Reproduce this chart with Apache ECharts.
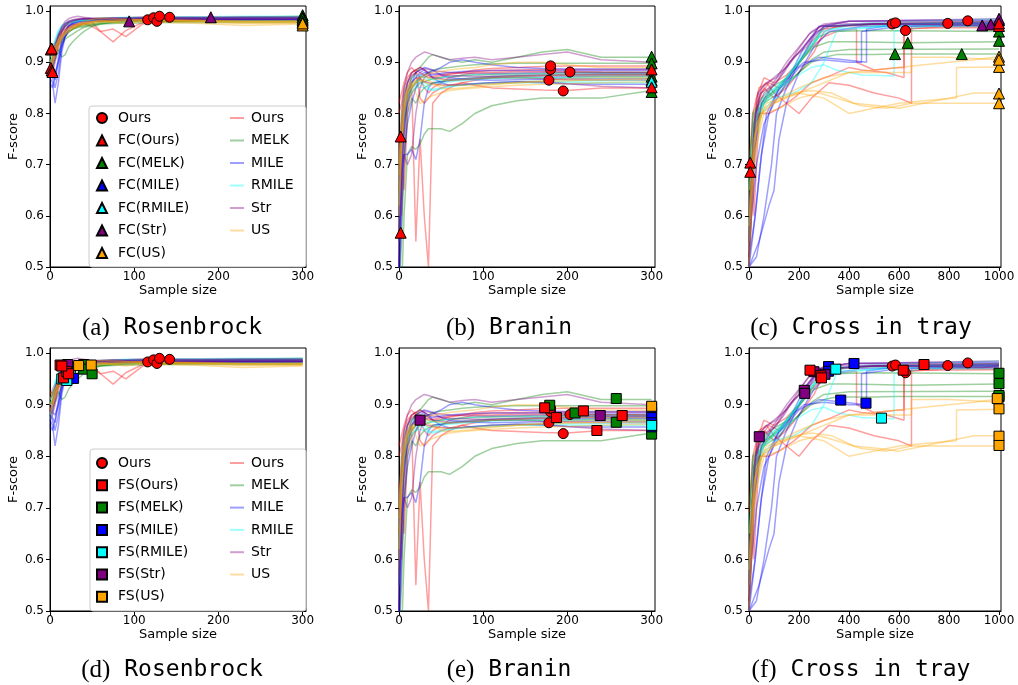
<!DOCTYPE html>
<html><head><meta charset="utf-8">
<script src="https://cdn.jsdelivr.net/npm/echarts@6/dist/echarts.min.js"></script>
<style>html,body{margin:0;padding:0;background:#fff}#c{width:1018px;height:685px}</style>
</head><body><div id="c"></div>
<script>
// ---------------- DATA ----------------
const METHODS = ['Ours','MELK','MILE','RMILE','Str','US'];
const COLORS = {Ours:'#ff0000', MELK:'#008000', MILE:'#0000ff', RMILE:'#00ffff', Str:'#800080', US:'#ffa500'};
const Y_TICKS = [0.5,0.6,0.7,0.8,0.9,1.0];
const X_TICKS_300 = [0,100,200,300];
const X_TICKS_1000 = [0,200,400,600,800,1000];

// Rosenbrock: sampled sample sizes, runs per method (F-score)
const ros_x = [0,3,6,10,14,18,22,27,33,40,50,60,75,90,110,140,180,230,300];
const ros_ours = [
 [0.92,0.93,0.94,0.955,0.965,0.97,0.975,0.978,0.98,0.98,0.982,0.983,0.984,0.984,0.985,0.985,0.986,0.986,0.986],
 [0.89,0.90,0.92,0.94,0.955,0.96,0.968,0.972,0.975,0.978,0.98,0.98,0.982,0.983,0.983,0.984,0.984,0.985,0.985],
 [0.88,0.885,0.91,0.93,0.95,0.962,0.97,0.975,0.972,0.976,0.97,0.96,0.965,0.95,0.975,0.98,0.982,0.983,0.983],
 [0.885,0.90,0.93,0.95,0.96,0.965,0.97,0.968,0.972,0.975,0.978,0.96,0.94,0.962,0.978,0.982,0.984,0.985,0.986],
 [0.925,0.92,0.935,0.95,0.962,0.97,0.975,0.978,0.982,0.984,0.985,0.986,0.987,0.987,0.988,0.988,0.988,0.988,0.988]];
const ros_melk = [
 [0.90,0.91,0.92,0.925,0.91,0.915,0.93,0.94,0.95,0.96,0.97,0.975,0.978,0.98,0.98,0.98,0.98,0.98,0.98],
 [0.91,0.92,0.93,0.94,0.95,0.955,0.96,0.965,0.97,0.972,0.975,0.978,0.98,0.982,0.983,0.984,0.985,0.985,0.985],
 [0.88,0.895,0.905,0.92,0.935,0.945,0.95,0.955,0.962,0.968,0.972,0.975,0.976,0.977,0.977,0.978,0.978,0.978,0.978],
 [0.90,0.905,0.925,0.94,0.945,0.95,0.958,0.965,0.97,0.975,0.978,0.98,0.982,0.983,0.984,0.985,0.986,0.988,0.99],
 [0.92,0.925,0.93,0.935,0.94,0.95,0.96,0.965,0.968,0.97,0.974,0.976,0.978,0.979,0.98,0.98,0.981,0.982,0.982]];
const ros_mile = [
 [0.87,0.86,0.82,0.86,0.92,0.95,0.965,0.972,0.978,0.98,0.982,0.984,0.985,0.985,0.986,0.986,0.986,0.987,0.987],
 [0.88,0.87,0.85,0.88,0.93,0.955,0.97,0.975,0.978,0.98,0.982,0.983,0.984,0.985,0.985,0.985,0.986,0.986,0.986],
 [0.89,0.875,0.865,0.90,0.94,0.96,0.97,0.976,0.98,0.982,0.983,0.984,0.984,0.985,0.985,0.985,0.985,0.985,0.985],
 [0.86,0.85,0.87,0.91,0.945,0.962,0.972,0.977,0.98,0.981,0.982,0.983,0.983,0.984,0.984,0.984,0.984,0.984,0.984],
 [0.90,0.885,0.88,0.90,0.93,0.95,0.962,0.97,0.975,0.978,0.98,0.981,0.982,0.982,0.983,0.983,0.983,0.983,0.983]];
const ros_rmile = [
 [0.90,0.91,0.94,0.96,0.97,0.975,0.978,0.98,0.982,0.984,0.985,0.986,0.987,0.988,0.988,0.989,0.989,0.99,0.99],
 [0.88,0.90,0.93,0.955,0.968,0.975,0.978,0.98,0.982,0.983,0.984,0.985,0.986,0.987,0.987,0.988,0.988,0.988,0.988],
 [0.91,0.92,0.945,0.962,0.972,0.976,0.98,0.982,0.983,0.984,0.985,0.986,0.986,0.987,0.987,0.987,0.987,0.987,0.987],
 [0.87,0.89,0.92,0.945,0.96,0.97,0.975,0.978,0.98,0.981,0.982,0.983,0.984,0.985,0.985,0.986,0.986,0.986,0.986],
 [0.90,0.915,0.935,0.955,0.965,0.972,0.976,0.979,0.981,0.983,0.984,0.985,0.985,0.986,0.986,0.986,0.987,0.987,0.987]];
const ros_str = [
 [0.89,0.90,0.92,0.95,0.97,0.98,0.985,0.988,0.99,0.988,0.986,0.985,0.986,0.986,0.987,0.987,0.987,0.988,0.988],
 [0.88,0.89,0.91,0.94,0.96,0.975,0.98,0.983,0.985,0.986,0.985,0.984,0.985,0.985,0.985,0.986,0.986,0.986,0.986],
 [0.90,0.905,0.93,0.955,0.968,0.976,0.98,0.982,0.984,0.985,0.984,0.982,0.983,0.983,0.984,0.984,0.984,0.985,0.985],
 [0.87,0.88,0.90,0.935,0.958,0.97,0.977,0.98,0.983,0.985,0.986,0.986,0.987,0.987,0.988,0.988,0.988,0.988,0.988],
 [0.91,0.92,0.935,0.95,0.962,0.972,0.978,0.981,0.983,0.984,0.985,0.985,0.985,0.985,0.985,0.985,0.985,0.985,0.985]];
const ros_us = [
 [0.90,0.91,0.93,0.94,0.95,0.96,0.965,0.97,0.975,0.978,0.98,0.982,0.978,0.975,0.98,0.978,0.976,0.972,0.975],
 [0.88,0.90,0.92,0.935,0.948,0.955,0.962,0.968,0.972,0.975,0.978,0.98,0.98,0.982,0.983,0.982,0.98,0.978,0.978],
 [0.91,0.92,0.93,0.945,0.955,0.962,0.968,0.972,0.976,0.98,0.984,0.986,0.985,0.984,0.983,0.983,0.982,0.98,0.98],
 [0.89,0.90,0.915,0.93,0.945,0.955,0.96,0.966,0.97,0.974,0.976,0.978,0.979,0.98,0.98,0.98,0.979,0.976,0.977],
 [0.90,0.905,0.92,0.94,0.95,0.958,0.965,0.97,0.974,0.977,0.979,0.981,0.982,0.983,0.983,0.982,0.981,0.979,0.98]];
const ros_circles = [[116,0.983],[123,0.987],[127,0.980],[130,0.990],[142,0.988]];
const ros_fc = {
 Ours:[[1,0.925],[2,0.927],[1,0.889],[2,0.884],[3,0.881]],
 MELK:[[300,0.992],[300,0.988],[300,0.982],[300,0.985],[300,0.979]],
 MILE:[], RMILE:[],
 Str:[[94,0.980],[191,0.988]],
 US:[[300,0.972],[300,0.976]]};
const ros_fs = {
 Ours:[[12,0.977],[16,0.952],[20,0.964],[22,0.960],[14,0.975]],
 MELK:[[40,0.978],[40,0.969],[50,0.960]],
 MILE:[[28,0.951],[24,0.972]],
 RMILE:[[14,0.950],[20,0.947],[24,0.970]],
 Str:[[21,0.978]],
 US:[[34,0.976],[49,0.977]]};

// Branin
const bra_x = [0,3,6,10,15,20,25,30,35,40,50,60,75,90,110,140,170,200,240,300];
const bra_ours = [
 [0.80,0.82,0.85,0.87,0.88,0.885,0.88,0.875,0.87,0.872,0.875,0.878,0.88,0.882,0.884,0.885,0.886,0.886,0.886,0.886],
 [0.75,0.60,0.72,0.85,0.87,0.88,0.87,0.85,0.84,0.85,0.86,0.87,0.875,0.88,0.88,0.882,0.882,0.882,0.881,0.88],
 [0.57,0.70,0.65,0.80,0.86,0.55,0.75,0.60,0.50,0.82,0.84,0.85,0.86,0.865,0.87,0.87,0.868,0.866,0.865,0.865],
 [0.82,0.84,0.86,0.88,0.89,0.88,0.83,0.82,0.83,0.84,0.85,0.855,0.86,0.855,0.85,0.848,0.846,0.845,0.85,0.85],
 [0.70,0.78,0.84,0.86,0.88,0.885,0.89,0.885,0.875,0.87,0.872,0.876,0.88,0.885,0.888,0.89,0.892,0.893,0.893,0.893]];
const bra_melk = [
 [0.50,0.45,0.60,0.72,0.735,0.73,0.74,0.76,0.77,0.77,0.77,0.765,0.78,0.80,0.815,0.825,0.83,0.83,0.83,0.845],
 [0.70,0.75,0.80,0.84,0.87,0.88,0.89,0.90,0.91,0.915,0.91,0.905,0.90,0.905,0.90,0.91,0.92,0.925,0.91,0.91],
 [0.60,0.70,0.78,0.82,0.84,0.85,0.86,0.862,0.865,0.868,0.87,0.872,0.874,0.875,0.876,0.877,0.878,0.88,0.88,0.88],
 [0.45,0.55,0.70,0.80,0.83,0.82,0.84,0.85,0.855,0.86,0.862,0.865,0.867,0.868,0.87,0.87,0.87,0.871,0.872,0.872],
 [0.65,0.72,0.80,0.83,0.85,0.86,0.87,0.875,0.88,0.885,0.888,0.89,0.893,0.895,0.897,0.898,0.898,0.898,0.898,0.898]];
const bra_mile = [
 [0.45,0.60,0.72,0.78,0.82,0.85,0.87,0.875,0.88,0.882,0.89,0.90,0.905,0.90,0.895,0.89,0.888,0.887,0.887,0.887],
 [0.50,0.70,0.76,0.82,0.86,0.88,0.885,0.89,0.888,0.885,0.875,0.87,0.868,0.866,0.865,0.866,0.867,0.868,0.868,0.868],
 [0.55,0.68,0.72,0.72,0.73,0.71,0.75,0.82,0.85,0.86,0.862,0.864,0.866,0.868,0.87,0.872,0.873,0.873,0.874,0.874],
 [0.60,0.75,0.80,0.84,0.86,0.87,0.88,0.885,0.88,0.87,0.86,0.855,0.856,0.858,0.86,0.862,0.86,0.858,0.857,0.857],
 [0.48,0.65,0.78,0.83,0.85,0.86,0.875,0.88,0.878,0.875,0.878,0.88,0.882,0.883,0.884,0.884,0.884,0.884,0.884,0.884]];
const bra_rmile = [
 [0.60,0.75,0.82,0.84,0.85,0.855,0.86,0.855,0.85,0.845,0.848,0.852,0.855,0.857,0.858,0.86,0.86,0.86,0.86,0.86],
 [0.65,0.78,0.83,0.85,0.86,0.862,0.865,0.86,0.856,0.858,0.86,0.862,0.864,0.866,0.868,0.87,0.87,0.87,0.87,0.87],
 [0.70,0.80,0.84,0.86,0.87,0.872,0.875,0.87,0.865,0.868,0.87,0.872,0.874,0.876,0.877,0.878,0.878,0.878,0.878,0.878],
 [0.55,0.72,0.80,0.83,0.845,0.85,0.852,0.85,0.846,0.848,0.85,0.853,0.856,0.858,0.86,0.862,0.863,0.863,0.864,0.865],
 [0.62,0.76,0.81,0.84,0.855,0.86,0.868,0.872,0.87,0.866,0.864,0.866,0.868,0.87,0.872,0.874,0.875,0.876,0.876,0.876]];
const bra_str = [
 [0.60,0.80,0.85,0.88,0.90,0.91,0.915,0.92,0.918,0.915,0.91,0.905,0.908,0.91,0.905,0.91,0.915,0.92,0.905,0.90],
 [0.55,0.70,0.72,0.70,0.72,0.80,0.85,0.87,0.875,0.87,0.868,0.866,0.868,0.87,0.872,0.874,0.875,0.876,0.877,0.877],
 [0.65,0.75,0.82,0.86,0.88,0.885,0.89,0.885,0.88,0.878,0.876,0.874,0.873,0.872,0.872,0.873,0.874,0.875,0.876,0.876],
 [0.50,0.68,0.80,0.84,0.86,0.87,0.868,0.862,0.86,0.858,0.856,0.855,0.856,0.858,0.86,0.862,0.862,0.858,0.853,0.85],
 [0.70,0.78,0.83,0.86,0.875,0.88,0.885,0.888,0.886,0.884,0.882,0.88,0.879,0.878,0.878,0.879,0.88,0.88,0.88,0.88]];
const bra_us = [
 [0.70,0.80,0.83,0.85,0.86,0.84,0.82,0.825,0.83,0.835,0.84,0.845,0.848,0.85,0.852,0.855,0.857,0.858,0.86,0.862],
 [0.65,0.75,0.80,0.84,0.855,0.865,0.87,0.875,0.878,0.88,0.882,0.885,0.888,0.89,0.895,0.90,0.90,0.895,0.89,0.89],
 [0.60,0.72,0.80,0.83,0.85,0.86,0.865,0.862,0.858,0.856,0.855,0.855,0.855,0.856,0.858,0.86,0.862,0.864,0.866,0.868],
 [0.68,0.78,0.82,0.845,0.858,0.865,0.87,0.872,0.87,0.868,0.866,0.864,0.866,0.868,0.87,0.872,0.874,0.875,0.875,0.875],
 [0.62,0.74,0.81,0.84,0.852,0.86,0.864,0.866,0.864,0.86,0.85,0.848,0.85,0.852,0.856,0.86,0.864,0.868,0.87,0.87]];
const bra_circles = [[178,0.865],[180,0.886],[180,0.893],[203,0.881],[195,0.844]];
const bra_fc = {
 Ours:[[2,0.755],[2,0.567],[300,0.886],[300,0.851]],
 MELK:[[300,0.911],[300,0.898],[300,0.872],[300,0.865],[300,0.842]],
 MILE:[], RMILE:[[300,0.862]], Str:[], US:[]};
const bra_fs = {
 Ours:[[173,0.894],[187,0.875],[219,0.888],[235,0.850],[265,0.879]],
 MELK:[[179,0.899],[209,0.884],[258,0.912],[258,0.866],[300,0.843]],
 MILE:[[300,0.895],[300,0.885],[300,0.875],[300,0.865],[300,0.857]],
 RMILE:[[300,0.860]],
 Str:[[25,0.870],[239,0.879]],
 US:[[300,0.897]]};

// Cross in tray: [sample size, F-score] points per run
const cit_ours = [
 [[0,0.5],[10,0.7],[25,0.8],[50,0.84],[80,0.86],[120,0.85],[160,0.87],[200,0.9],[250,0.94],[300,0.965],[400,0.972],[500,0.975],[600,0.976],[800,0.976],[1000,0.977]],
 [[0,0.6],[15,0.75],[30,0.82],[60,0.85],[100,0.83],[150,0.85],[200,0.88],[260,0.92],[300,0.96],[350,0.97],[500,0.973],[700,0.975],[1000,0.975]],
 [[0,0.69],[10,0.72],[20,0.6],[40,0.8],[80,0.8],[120,0.81],[180,0.83],[250,0.86],[330,0.875],[400,0.89],[450,0.885],[550,0.88],[620,0.87],[620,0.965],[700,0.967],[1000,0.968]],
 [[0,0.7],[15,0.8],[40,0.85],[70,0.86],[100,0.84],[150,0.82],[200,0.8],[250,0.83],[320,0.86],[400,0.855],[500,0.84],[600,0.83],[650,0.82],[650,0.97],[800,0.972],[1000,0.972]],
 [[0,0.55],[10,0.65],[30,0.83],[60,0.87],[100,0.86],[150,0.875],[200,0.9],[250,0.93],[300,0.95],[350,0.96],[430,0.965],[430,0.9],[500,0.885],[600,0.89],[620,0.89],[620,0.965],[800,0.97],[1000,0.97]]];
const cit_melk = [
 [[0,0.55],[20,0.75],[50,0.82],[100,0.84],[150,0.86],[200,0.88],[250,0.9],[300,0.91],[350,0.915],[500,0.915],[585,0.916],[850,0.916],[1000,0.916]],
 [[0,0.6],[20,0.78],[60,0.83],[120,0.85],[200,0.9],[260,0.93],[320,0.94],[400,0.94],[640,0.938],[1000,0.94]],
 [[0,0.65],[15,0.8],[50,0.83],[100,0.855],[160,0.87],[220,0.91],[280,0.95],[330,0.96],[500,0.962],[1000,0.96]],
 [[0,0.7],[20,0.8],[60,0.82],[120,0.84],[180,0.87],[250,0.905],[300,0.92],[400,0.925],[1000,0.926]],
 [[0,0.5],[25,0.78],[70,0.83],[130,0.86],[200,0.9],[260,0.94],[300,0.97],[500,0.975],[1000,0.98]]];
const cit_mile = [
 [[0,0.5],[30,0.52],[60,0.6],[90,0.7],[110,0.8],[150,0.85],[200,0.9],[260,0.95],[300,0.97],[500,0.975],[1000,0.976]],
 [[0,0.5],[40,0.55],[80,0.62],[100,0.65],[120,0.75],[150,0.82],[200,0.88],[260,0.93],[320,0.96],[450,0.97],[1000,0.975]],
 [[0,0.52],[25,0.6],[50,0.72],[80,0.8],[120,0.85],[170,0.88],[220,0.9],[300,0.905],[400,0.9],[450,0.9],[450,0.96],[600,0.97],[1000,0.972]],
 [[0,0.55],[30,0.7],[60,0.78],[100,0.82],[150,0.86],[200,0.89],[280,0.91],[380,0.905],[470,0.9],[470,0.965],[600,0.975],[1000,0.978]],
 [[0,0.5],[20,0.58],[45,0.7],[70,0.8],[110,0.84],[160,0.87],[220,0.93],[280,0.97],[400,0.98],[700,0.982],[1000,0.982]]];
const cit_rmile = [
 [[0,0.6],[20,0.78],[60,0.83],[120,0.85],[180,0.87],[250,0.89],[300,0.895],[350,0.885],[450,0.875],[580,0.873],[580,0.96],[700,0.97],[1000,0.97]],
 [[0,0.55],[20,0.75],[60,0.82],[120,0.85],[200,0.9],[280,0.95],[300,0.97],[500,0.978],[1000,0.985]],
 [[0,0.65],[25,0.8],[70,0.84],[140,0.86],[200,0.9],[260,0.94],[320,0.965],[600,0.97],[1000,0.975]],
 [[0,0.5],[15,0.7],[50,0.8],[100,0.83],[180,0.84],[250,0.86],[300,0.9],[350,0.96],[600,0.975],[1000,0.978]],
 [[0,0.58],[30,0.8],[80,0.84],[150,0.87],[220,0.92],[290,0.96],[400,0.972],[1000,0.974]]];
const cit_str = [
 [[0,0.5],[15,0.7],[35,0.84],[70,0.86],[110,0.87],[150,0.9],[200,0.93],[250,0.96],[300,0.975],[400,0.98],[1000,0.985]],
 [[0,0.55],[20,0.78],[50,0.85],[100,0.87],[150,0.89],[200,0.92],[250,0.95],[300,0.97],[500,0.975],[935,0.972],[1000,0.975]],
 [[0,0.6],[25,0.8],[60,0.84],[110,0.86],[160,0.9],[220,0.93],[270,0.96],[350,0.975],[700,0.978],[1000,0.978]],
 [[0,0.52],[10,0.6],[40,0.838],[80,0.85],[130,0.88],[180,0.91],[230,0.93],[280,0.97],[400,0.98],[1000,0.98]],
 [[0,0.5],[20,0.72],[50,0.82],[90,0.85],[140,0.88],[190,0.92],[240,0.955],[290,0.97],[500,0.975],[965,0.974],[1000,0.976]]];
const cit_us = [
 [[0,0.6],[20,0.75],[50,0.8],[100,0.82],[150,0.83],[200,0.84],[250,0.85],[300,0.86],[350,0.87],[400,0.88],[500,0.885],[600,0.89],[700,0.895],[800,0.9],[900,0.905],[1000,0.911]],
 [[0,0.55],[20,0.72],[60,0.8],[120,0.81],[200,0.83],[280,0.84],[350,0.83],[450,0.815],[550,0.81],[650,0.82],[750,0.82],[850,0.82],[1000,0.82]],
 [[0,0.65],[30,0.78],[70,0.82],[130,0.83],[200,0.84],[300,0.83],[400,0.8],[500,0.81],[600,0.82],[700,0.825],[830,0.83],[830,0.89],[1000,0.891]],
 [[0,0.5],[20,0.7],[50,0.8],[100,0.82],[180,0.84],[250,0.845],[330,0.84],[420,0.82],[520,0.815],[600,0.81],[700,0.82],[800,0.83],[900,0.84],[1000,0.84]],
 [[0,0.58],[25,0.76],[60,0.81],[120,0.83],[200,0.85],[300,0.87],[400,0.88],[500,0.88],[600,0.88],[650,0.88],[650,0.91],[800,0.91],[1000,0.905]]];
const cit_circles = [[573,0.975],[586,0.977],[626,0.962],[795,0.976],[875,0.981]];
const cit_fc = {
 Ours:[[5,0.704],[5,0.686],[1000,0.971],[1000,0.976]],
 MELK:[[584,0.916],[635,0.938],[851,0.916],[1000,0.960],[1000,0.942]],
 MILE:[[1000,0.982]], RMILE:[],
 Str:[[933,0.972],[967,0.974],[1000,0.985]],
 US:[[1000,0.911],[1000,0.891],[1000,0.839],[1000,0.820],[1000,0.905]]};
const cit_fs = {
 Ours:[[244,0.967],[287,0.956],[290,0.952],[617,0.967],[700,0.978]],
 MELK:[[1000,0.961],[1000,0.941],[1000,0.915],[1000,0.918]],
 MILE:[[318,0.974],[420,0.980],[367,0.909],[468,0.903],[318,0.965]],
 RMILE:[[347,0.969],[530,0.874]],
 Str:[[41,0.838],[221,0.928],[223,0.922],[260,0.964],[304,0.959]],
 US:[[993,0.912],[1000,0.892],[1000,0.839],[1000,0.821]]};

const CAPTIONS = [['(a)','Rosenbrock'],['(b)','Branin'],['(c)','Cross in tray'],['(d)','Rosenbrock'],['(e)','Branin'],['(f)','Cross in tray']];

// ---------------- BUILD ----------------
const FONT = 'DejaVu Sans';
const ros_lines = {Ours:ros_ours, MELK:ros_melk, MILE:ros_mile, RMILE:ros_rmile, Str:ros_str, US:ros_us};
const bra_lines = {Ours:bra_ours, MELK:bra_melk, MILE:bra_mile, RMILE:bra_rmile, Str:bra_str, US:bra_us};
const cit_lines = {Ours:cit_ours, MELK:cit_melk, MILE:cit_mile, RMILE:cit_rmile, Str:cit_str, US:cit_us};

const panels = [
 {grid:{left:50, top:6, width:256, height:261}, xs:ros_x, lines:ros_lines, circles:ros_circles, marks:ros_fc, pre:'FC', sym:'triangle', xmax:304, xt:X_TICKS_300},
 {grid:{left:399, top:6, width:256, height:261}, xs:bra_x, lines:bra_lines, circles:bra_circles, marks:bra_fc, pre:'FC', sym:'triangle', xmax:304, xt:X_TICKS_300},
 {grid:{left:749, top:6, width:252, height:261}, xs:null, lines:cit_lines, circles:cit_circles, marks:cit_fc, pre:'FC', sym:'triangle', xmax:1008, xt:X_TICKS_1000},
 {grid:{left:50, top:348, width:256, height:263}, xs:ros_x, lines:ros_lines, circles:ros_circles, marks:ros_fs, pre:'FS', sym:'rect', xmax:304, xt:X_TICKS_300},
 {grid:{left:399, top:348, width:256, height:263}, xs:bra_x, lines:bra_lines, circles:bra_circles, marks:bra_fs, pre:'FS', sym:'rect', xmax:304, xt:X_TICKS_300},
 {grid:{left:749, top:348, width:252, height:263}, xs:null, lines:cit_lines, circles:cit_circles, marks:cit_fs, pre:'FS', sym:'rect', xmax:1008, xt:X_TICKS_1000}
];

const grids=[], xAxes=[], yAxes=[], series=[];
panels.forEach((p, gi) => {
  grids.push(Object.assign({show:true, borderColor:'#000', borderWidth:1, backgroundColor:'transparent', containLabel:false, outerBoundsMode:'none'}, p.grid));
  xAxes.push({type:'value', gridIndex:gi, min:0, max:p.xmax,
    name:'Sample size', nameLocation:'middle', nameGap:17,
    nameTextStyle:{fontFamily:FONT, fontSize:13, color:'#000'},
    axisLine:{show:true, onZero:false, lineStyle:{color:'#000', width:1}},
    axisTick:{show:true, length:4, lineStyle:{color:'#000'}, customValues:p.xt},
    axisLabel:{show:true, margin:4, fontFamily:FONT, fontSize:12, color:'#000', customValues:p.xt, formatter:v=>String(v)},
    splitLine:{show:false}});
  yAxes.push({type:'value', gridIndex:gi, min:0.5, max:1.01,
    name:'F-score', nameLocation:'middle', nameGap:30,
    nameTextStyle:{fontFamily:FONT, fontSize:13, color:'#000'},
    axisLine:{show:true, onZero:false, lineStyle:{color:'#000', width:1}},
    axisTick:{show:true, length:4, lineStyle:{color:'#000'}, customValues:Y_TICKS},
    axisLabel:{show:true, margin:6, fontFamily:FONT, fontSize:12, color:'#000', customValues:Y_TICKS, formatter:v=>v.toFixed(1)},
    splitLine:{show:false}});
  METHODS.forEach(m => {
    p.lines[m].forEach(run => {
      const data = p.xs ? p.xs.map((x,i)=>[x, run[i]]) : run;
      series.push({type:'line', name:'line:'+m, xAxisIndex:gi, yAxisIndex:gi, data:data,
        symbol:'none', showSymbol:false, clip:true, silent:true, z:2,
        lineStyle:{width:1.5, color:COLORS[m], opacity:0.38}, itemStyle:{color:COLORS[m]}});
    });
  });
  series.push({type:'scatter', name:'Ours', xAxisIndex:gi, yAxisIndex:gi, data:p.circles,
    symbol:'circle', symbolSize:10, clip:false, silent:true, z:4,
    itemStyle:{color:COLORS.Ours, borderColor:'#000', borderWidth:1, opacity:1}});
  ['MELK','MILE','RMILE','Str','US','Ours'].forEach(m => {
    series.push({type:'scatter', name:p.pre+'('+m+')', xAxisIndex:gi, yAxisIndex:gi, data:p.marks[m],
      symbol:p.sym, symbolSize:p.sym==='rect'?10:11, clip:false, silent:true, z:5,
      itemStyle:{color:COLORS[m], borderColor:'#000', borderWidth:1, opacity:1}});
  });
});

function legendPair(pre, top, pitch) {
  const gap = pitch - 14;
  const base = {orient:'vertical', top:top, selectedMode:false, z:8, itemGap:gap, padding:0,
    backgroundColor:'transparent'};
  return [
    Object.assign({}, base, {left:96, itemWidth:10, itemHeight:10,
      textStyle:{fontFamily:FONT, fontSize:14, color:'#000', lineHeight:14, padding:[0,0,0,6]},
      data:['Ours'].concat(METHODS.map(m=>pre+'('+m+')'))}),
    Object.assign({}, base, {left:230, itemWidth:14, itemHeight:2,
      textStyle:{fontFamily:FONT, fontSize:14, color:'#000', lineHeight:14, padding:[0,0,0,2]},
      data:METHODS.map(m=>({name:'line:'+m, icon:'rect', itemStyle:{color:COLORS[m], opacity:0.38, borderWidth:0}})),
      formatter:n=>n.replace('line:','')})
  ];
}
const legends = legendPair('FC', 111, 22.5).concat(legendPair('FS', 456, 22.3));

const graphics = [
  {type:'rect', z:7, shape:{x:89, y:106, width:217, height:161, r:3}, style:{fill:'rgba(255,255,255,0.8)', stroke:'#cccccc', lineWidth:1}},
  {type:'rect', z:7, shape:{x:90, y:449, width:216, height:162, r:3}, style:{fill:'rgba(255,255,255,0.8)', stroke:'#cccccc', lineWidth:1}}
];
const capPos = [[172,328],[509,328],[861,328],[172,670],[509,670],[861,670]];
CAPTIONS.forEach((c,i) => {
  graphics.push({type:'text', z:8, x:capPos[i][0], y:capPos[i][1],
    style:{text:'{p|'+c[0]+'}{m| '+c[1]+'}', align:'center', verticalAlign:'middle', fill:'#000',
      rich:{p:{fontFamily:'Liberation Serif', fontSize:25, fill:'#000'}, m:{fontFamily:'DejaVu Sans Mono', fontSize:23, fill:'#000'}}}});
});

const chart = echarts.init(document.getElementById('c'), null, {renderer:'canvas'});
chart.setOption({
  animation:false, backgroundColor:'#fff', textStyle:{fontFamily:FONT},
  grid:grids, xAxis:xAxes, yAxis:yAxes, legend:legends, graphic:graphics, series:series
});
</script></body></html>
